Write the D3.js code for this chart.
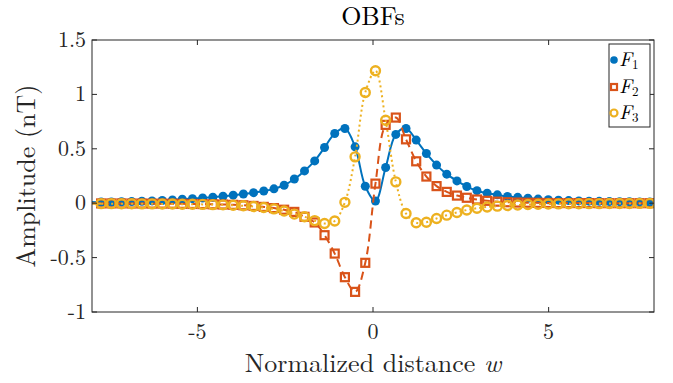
<!DOCTYPE html>
<html>
<head>
<meta charset="utf-8">
<script src="https://cdn.jsdelivr.net/npm/d3@7"></script>
<style>
  body { margin: 0; background: #fff; }
</style>
</head>
<body>
<div id="chart"></div>
<script>

const WIDTH = 673;
const HEIGHT = 383;

// plot box (inner axes area)
const BOX = {'left': 92, 'right': 654, 'top': 40, 'bottom': 312};
const FONT = "'Latin Modern Roman', 'Liberation Serif', serif";

// normalized distance of each marker
var W = [-7.74, -7.45, -7.16, -6.87, -6.58, -6.29, -6.00, -5.71, -5.43, -5.14,
         -4.85, -4.56, -4.27, -3.98, -3.69, -3.40, -3.11, -2.82, -2.53, -2.24,
         -1.95, -1.66, -1.38, -1.09, -0.80, -0.51, -0.22, 0.07, 0.36, 0.65,
         0.94, 1.23, 1.52, 1.81, 2.10, 2.39, 2.67, 2.96, 3.25, 3.54,
         3.83, 4.12, 4.41, 4.70, 4.99, 5.28, 5.57, 5.86, 6.15, 6.44,
         6.73, 7.02, 7.30, 7.59, 7.88];

var F1 = [0.010, 0.011, 0.013, 0.015, 0.018, 0.021, 0.025, 0.030, 0.036, 0.042,
          0.048, 0.055, 0.064, 0.074, 0.085, 0.097, 0.112, 0.132, 0.165, 0.222,
          0.297, 0.389, 0.512, 0.641, 0.687, 0.518, 0.156, 0.020, 0.328, 0.632,
          0.687, 0.580, 0.457, 0.350, 0.267, 0.205, 0.153, 0.115, 0.092, 0.077,
          0.062, 0.054, 0.045, 0.038, 0.032, 0.028, 0.024, 0.021, 0.019, 0.017,
          0.015, 0.014, 0.013, 0.012, 0.011];

var F2 = [-0.002, -0.002, -0.002, -0.003, -0.003, -0.004, -0.004, -0.005, -0.006, -0.007,
          -0.008, -0.010, -0.012, -0.015, -0.019, -0.025, -0.034, -0.045, -0.060, -0.080,
          -0.125, -0.177, -0.294, -0.463, -0.680, -0.815, -0.548, 0.180, 0.720, 0.787,
          0.587, 0.385, 0.245, 0.157, 0.104, 0.070, 0.050, 0.034, 0.022, 0.014,
          0.009, 0.006, 0.004, 0.003, 0.002, 0.001, 0.001, 0.001, 0.001, 0.000,
          0.000, 0.000, 0.000, 0.000, 0.000];

var F3 = [-0.004, -0.004, -0.005, -0.005, -0.006, -0.006, -0.007, -0.008, -0.009, -0.010,
          -0.011, -0.013, -0.015, -0.019, -0.024, -0.030, -0.040, -0.052, -0.072, -0.100,
          -0.125, -0.160, -0.187, -0.163, 0.008, 0.426, 1.018, 1.217, 0.763, 0.196,
          -0.095, -0.180, -0.175, -0.140, -0.110, -0.085, -0.063, -0.046, -0.035, -0.027,
          -0.021, -0.016, -0.012, -0.009, -0.007, -0.006, -0.005, -0.005, -0.004, -0.004,
          -0.003, -0.003, -0.003, -0.002, -0.002];

var SERIES_NAMES = ['1', '2', '3'];
var COLORS = ['#0072BD', '#D95319', '#EDB120'];

var X_TICKS = [-5, 0, 5];
var X_TICK_LABELS = ['-5', '0', '5'];
var Y_TICKS = [-1, -0.5, 0, 0.5, 1, 1.5];
var Y_TICK_LABELS = ['-1', '-0.5', '0', '0.5', '1', '1.5'];


// draw right away (not on load) so the local fonts are picked up before the shot
drawChart();

function drawChart() {

    var svg = d3.select("#chart").append("svg")
                .attr("width", WIDTH)
                .attr("height", HEIGHT)
                .attr("font-family", FONT);

    var x = d3.scaleLinear().domain([-8, 8]).range([BOX.left, BOX.right]);
    var y = d3.scaleLinear().domain([-1, 1.5]).range([BOX.bottom, BOX.top]);

    var plot = svg.append("g");

    svg.append("clipPath").attr("id", "clip")
       .append("rect")
       .attr("x", BOX.left).attr("y", BOX.top)
       .attr("width", BOX.right - BOX.left)
       .attr("height", BOX.bottom - BOX.top);

    var line = d3.line()
                 .x(function (d) { return x(d[0]); })
                 .y(function (d) { return y(d[1]); })
                 .curve(d3.curveCatmullRom.alpha(0.5));

    var all = [F1, F2, F3].map(function (s) {
        return W.map(function (w, i) { return [w, s[i]]; });
    });

    var dashes = [null, "8,5", "2,3"];

    all.forEach(function (pts, si) {
        var g = plot.append("g").attr("clip-path", "url(#clip)");

        g.append("path")
         .attr("d", line(pts))
         .attr("fill", "none")
         .attr("stroke", COLORS[si])
         .attr("stroke-width", 2)
         .attr("stroke-dasharray", dashes[si]);

        // short stub from the axis edge to the first marker, like the original
        g.append("line")
         .attr("x1", BOX.left).attr("x2", x(pts[0][0]))
         .attr("y1", y(pts[0][1])).attr("y2", y(pts[0][1]))
         .attr("stroke", COLORS[si]).attr("stroke-width", 2);

        if (si == 0) {
            g.selectAll("circle").data(pts).enter().append("circle")
             .attr("cx", function (d) { return x(d[0]); })
             .attr("cy", function (d) { return y(d[1]); })
             .attr("r", 4.5)
             .attr("fill", COLORS[0]);
        } else if (si == 1) {
            g.selectAll("rect").data(pts).enter().append("rect")
             .attr("x", function (d) { return x(d[0]) - 4; })
             .attr("y", function (d) { return y(d[1]) - 4; })
             .attr("width", 8).attr("height", 8)
             .attr("fill", "none")
             .attr("stroke", COLORS[1])
             .attr("stroke-width", 2.2);
        } else {
            g.selectAll("circle").data(pts).enter().append("circle")
             .attr("cx", function (d) { return x(d[0]); })
             .attr("cy", function (d) { return y(d[1]); })
             .attr("r", 4.5)
             .attr("fill", "none")
             .attr("stroke", COLORS[2])
             .attr("stroke-width", 2.4);
        }
    });

    // axes, ticks inward on all four sides (box on)
    var ax = svg.append("g").attr("stroke", "#262626").attr("stroke-width", 1).attr("fill", "none");

    ax.append("rect")
      .attr("x", BOX.left).attr("y", BOX.top)
      .attr("width", BOX.right - BOX.left).attr("height", BOX.bottom - BOX.top);

    X_TICKS.forEach(function (t) {
        ax.append("line").attr("x1", x(t)).attr("x2", x(t)).attr("y1", BOX.bottom).attr("y2", BOX.bottom - 5);
        ax.append("line").attr("x1", x(t)).attr("x2", x(t)).attr("y1", BOX.top).attr("y2", BOX.top + 5);
    });
    Y_TICKS.forEach(function (t) {
        ax.append("line").attr("x1", BOX.left).attr("x2", BOX.left + 5).attr("y1", y(t)).attr("y2", y(t));
        ax.append("line").attr("x1", BOX.right).attr("x2", BOX.right - 5).attr("y1", y(t)).attr("y2", y(t));
    });

    svg.selectAll(".xt").data(X_TICKS).enter().append("text")
       .attr("x", function (d) { return x(d); })
       .attr("y", BOX.bottom + 27)
       .attr("text-anchor", "middle")
       .attr("font-size", "22px")
       .attr("fill", "#262626")
       .text(function (d, i) { return X_TICK_LABELS[i]; });

    svg.selectAll(".yt").data(Y_TICKS).enter().append("text")
       .attr("x", BOX.left - 6)
       .attr("y", function (d) { return y(d) + 7; })
       .attr("text-anchor", "end")
       .attr("font-size", "22px")
       .attr("fill", "#262626")
       .text(function (d, i) { return Y_TICK_LABELS[i]; });

    // title & labels
    svg.append("text")
       .attr("x", (BOX.left + BOX.right) / 2).attr("y", 25)
       .attr("text-anchor", "middle")
       .attr("font-size", "26px")
       .attr("fill", "#000")
       .text("OBFs");

    var xl = svg.append("text")
       .attr("x", (BOX.left + BOX.right) / 2).attr("y", 372)
       .attr("text-anchor", "middle")
       .attr("font-size", "26px")
       .attr("fill", "#262626");
    xl.append("tspan").text("Normalized distance ");
    xl.append("tspan").attr("font-style", "italic").text("w");

    svg.append("text")
       .attr("transform", "translate(35," + ((BOX.top + BOX.bottom) / 2) + ") rotate(-90)")
       .attr("text-anchor", "middle")
       .attr("font-size", "26px")
       .attr("fill", "#262626")
       .text("Amplitude (nT)");

    // legend
    var lg = svg.append("g");
    lg.append("rect")
      .attr("x", 609).attr("y", 44).attr("width", 41).attr("height", 83)
      .attr("fill", "#fff").attr("stroke", "#262626").attr("stroke-width", 1);

    var ly = [60, 87, 113];
    SERIES_NAMES.forEach(function (n, i) {
        if (i == 0) {
            lg.append("circle").attr("cx", 614).attr("cy", ly[i]).attr("r", 3.8).attr("fill", COLORS[0]);
        } else if (i == 1) {
            lg.append("rect").attr("x", 611).attr("y", ly[i] - 3).attr("width", 6).attr("height", 6)
              .attr("fill", "none").attr("stroke", COLORS[1]).attr("stroke-width", 2.2);
        } else {
            lg.append("circle").attr("cx", 614).attr("cy", ly[i]).attr("r", 3.5)
              .attr("fill", "none").attr("stroke", COLORS[2]).attr("stroke-width", 2.2);
        }
        var t = lg.append("text").attr("x", 619).attr("y", ly[i] + 6).attr("font-size", "20px").attr("fill", "#000");
        t.append("tspan").attr("font-style", "italic").text("F");
        t.append("tspan").attr("font-size", "13px").attr("dy", 3).text(n);
    });
}

</script>
</body>
</html>
